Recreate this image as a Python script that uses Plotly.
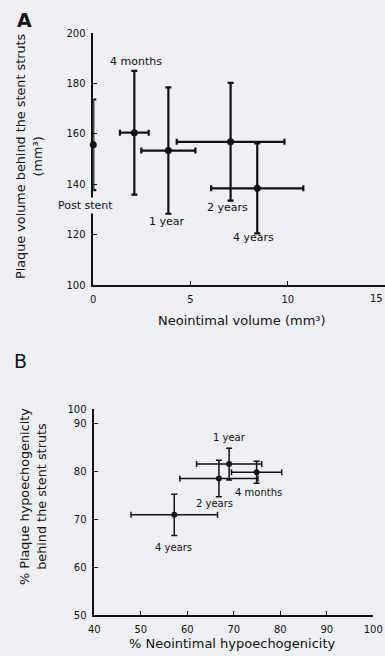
import plotly.graph_objects as go

# ---- Panel A data ----
a_labels = ["Post stent", "4 months", "1 year", "2 years", "4 years"]
a_x = [0.0, 2.11, 3.86, 7.06, 8.43]
a_x_err = [0.0, 0.74, 1.39, 2.77, 2.37]
a_y = [155.7, 160.5, 153.4, 156.9, 138.4]
a_y_err = [18.0, 24.6, 25.1, 23.4, 17.9]
# label centres in pixels (A)
a_label_px = [85, 136, 167, 227, 253]
a_label_py = [205, 62, 222, 207, 237]

# ---- Panel B data ----
b_labels = ["4 months", "1 year", "2 years", "4 years"]
b_x = [74.9, 69.0, 66.8, 57.2]
b_x_err = [5.4, 7.0, 8.4, 9.3]
b_y = [79.8, 81.5, 78.5, 70.9]
b_y_err = [2.3, 3.3, 3.8, 4.3]
b_label_px = [258, 229, 214, 173]
b_label_py = [492, 437, 503, 547]

a_xticks = [0, 5, 10, 15]
a_yticks = [100, 120, 140, 160, 180, 200]
b_xticks = [40, 50, 60, 70, 80, 90, 100]
b_yticks = [50, 60, 70, 80, 90, 93]
b_yticktext = ["50", "60", "70", "80", "90", "100"]

W, H = 385, 656
BG = "#eff0f4"
INK = "#111111"
FONT = "DejaVu Sans"

fig = go.Figure()

fig.add_trace(go.Scatter(
    x=a_x, y=a_y, mode="markers", xaxis="x", yaxis="y",
    marker=dict(color=INK, size=7),
    error_x=dict(type="data", array=a_x_err, color=INK, thickness=2.2, width=3),
    error_y=dict(type="data", array=a_y_err, color=INK, thickness=2.2, width=3),
    cliponaxis=False, showlegend=False,
))

fig.add_trace(go.Scatter(
    x=b_x, y=b_y, mode="markers", xaxis="x2", yaxis="y2",
    marker=dict(color=INK, size=6),
    error_x=dict(type="data", array=b_x_err, color=INK, thickness=1.5, width=3),
    error_y=dict(type="data", array=b_y_err, color=INK, thickness=1.5, width=3),
    cliponaxis=False, showlegend=False,
))

axis_common = dict(
    showgrid=False, zeroline=False, showline=True, linecolor=INK, linewidth=1.5,
    ticks="inside", ticklen=4, tickcolor=INK, tickwidth=1, ticklabelstandoff=4,
    tickfont=dict(family=FONT, size=10, color=INK), automargin=False,
)

fig.update_layout(
    width=W, height=H, autosize=False,
    margin=dict(l=0, r=0, t=0, b=0),
    paper_bgcolor=BG, plot_bgcolor=BG,
    xaxis=dict(domain=[93.3 / W, 1.0], range=[0, 15], tickvals=a_xticks,
               anchor="y", **axis_common),
    yaxis=dict(domain=[1 - 285 / H, 1 - 33.3 / H], range=[100, 200],
               tickvals=a_yticks, anchor="x", **axis_common),
    xaxis2=dict(domain=[94.3 / W, 373.3 / W], range=[40, 100], tickvals=b_xticks,
                anchor="y2", **axis_common),
    yaxis2=dict(domain=[1 - 615 / H, 1 - 409 / H], range=[50, 93],
                tickvals=b_yticks, ticktext=b_yticktext, anchor="x2", **axis_common),
)


def pann(text, px, py, size, angle=0, bg=None, xanchor="center"):
    d = dict(text=text, x=px / W, y=1 - py / H, xref="paper", yref="paper",
             showarrow=False, textangle=angle, xanchor=xanchor, yanchor="middle",
             font=dict(family=FONT, size=size, color=INK))
    if bg:
        d["bgcolor"] = bg
    return d


annotations = []
for t, px, py in zip(a_labels, a_label_px, a_label_py):
    annotations.append(pann(t, px, py, 11, bg=BG if t == "Post stent" else None))
for t, px, py in zip(b_labels, b_label_px, b_label_py):
    annotations.append(pann(t, px, py, 10))

annotations += [
    pann("15", 385, 298, 10, xanchor="right"),
    pann("<b>A</b>", 24, 20, 19),
    pann("B", 20, 361, 19),
    pann("Plaque volume behind the stent struts<br>(mm³)", 29, 156, 12.8, angle=-90),
    pann("Neointimal volume (mm³)", 242, 321, 13),
    pann("% Plaque hypoechogenicity<br>behind the stent struts", 33, 497, 12.8, angle=-90),
    pann("% Neointimal hypoechogenicity", 232, 643, 13),
]
fig.update_layout(annotations=annotations)

fig.write_html("out.html")
